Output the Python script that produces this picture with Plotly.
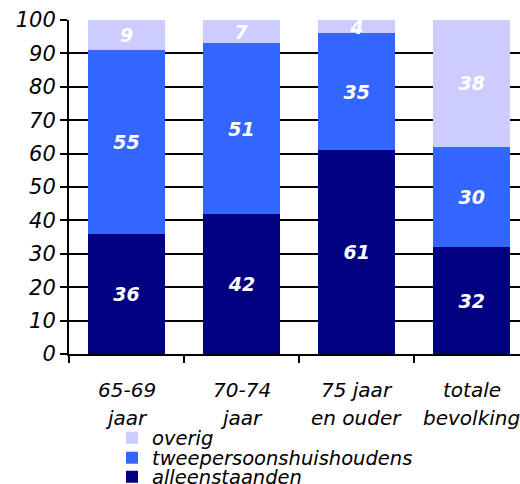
import plotly.graph_objects as go

categories = ["65-69", "70-74", "75 jaar", "totale"]
cat_line1 = ["65-69", "70-74", "75 jaar", "totale"]
cat_line2 = ["jaar", "jaar", "en ouder", "bevolking"]
alleenstaanden = [36, 42, 61, 32]
tweepersoons = [55, 51, 35, 30]
overig = [9, 7, 4, 38]
y_ticks = [0, 10, 20, 30, 40, 50, 60, 70, 80, 90, 100]

FONT = "DejaVu Sans"
series = [
    ("alleenstaanden", alleenstaanden, "#000080", "legend3"),
    ("tweepersoonshuishoudens", tweepersoons, "#3366FF", "legend2"),
    ("overig", overig, "#CCCCFF", "legend"),
]

fig = go.Figure()
for name, vals, col, lg in series:
    fig.add_trace(go.Bar(
        x=categories, y=vals, name=name, marker=dict(color=col, line=dict(width=0)),
        text=[str(v) for v in vals], textposition="inside", insidetextanchor="middle",
        textangle=0, constraintext="none",
        textfont=dict(family=FONT, size=19, color="white", style="italic", weight="bold"),
        width=0.67, legend=lg, cliponaxis=True,
    ))

leg_common = dict(font=dict(family=FONT, size=19.5, style="italic", color="black"),
                  bgcolor="rgba(0,0,0,0)", xref="container", yref="container",
                  xanchor="left", yanchor="middle", x=112/520)
fig.update_layout(
    barmode="stack",
    width=520, height=484,
    margin=dict(l=69, r=0, t=20, b=130, autoexpand=False),
    paper_bgcolor="white", plot_bgcolor="white",
    showlegend=True,
    legend=dict(**leg_common, y=1 - 438/484),
    legend2=dict(**leg_common, y=1 - 458/484),
    legend3=dict(**leg_common, y=1 - 477/484),
    xaxis=dict(range=[-0.5, 3.42], showline=True, linecolor="black", linewidth=2,
               ticks="outside", tickson="boundaries", ticklen=7, tickwidth=2, tickcolor="black",
               showticklabels=False, showgrid=False, zeroline=False),
    yaxis=dict(range=[0, 100], tickvals=y_ticks, showline=True, linecolor="black", linewidth=2,
               ticks="outside", ticklen=7, tickwidth=2, tickcolor="black",
               showgrid=True, gridcolor="black", gridwidth=2, zeroline=False,
               tickfont=dict(family=FONT, size=21, style="italic", color="black")),
)
for c, l1, l2 in zip(categories, cat_line1, cat_line2):
    fig.add_annotation(x=c, xref="x", yref="paper", y=-36/334, text=l1, showarrow=False,
                       yanchor="middle", font=dict(family=FONT, size=20, style="italic", color="black"))
    fig.add_annotation(x=c, xref="x", yref="paper", y=-64/334, text=l2, showarrow=False,
                       yanchor="middle", font=dict(family=FONT, size=20, style="italic", color="black"))

fig.write_html("out.html")
